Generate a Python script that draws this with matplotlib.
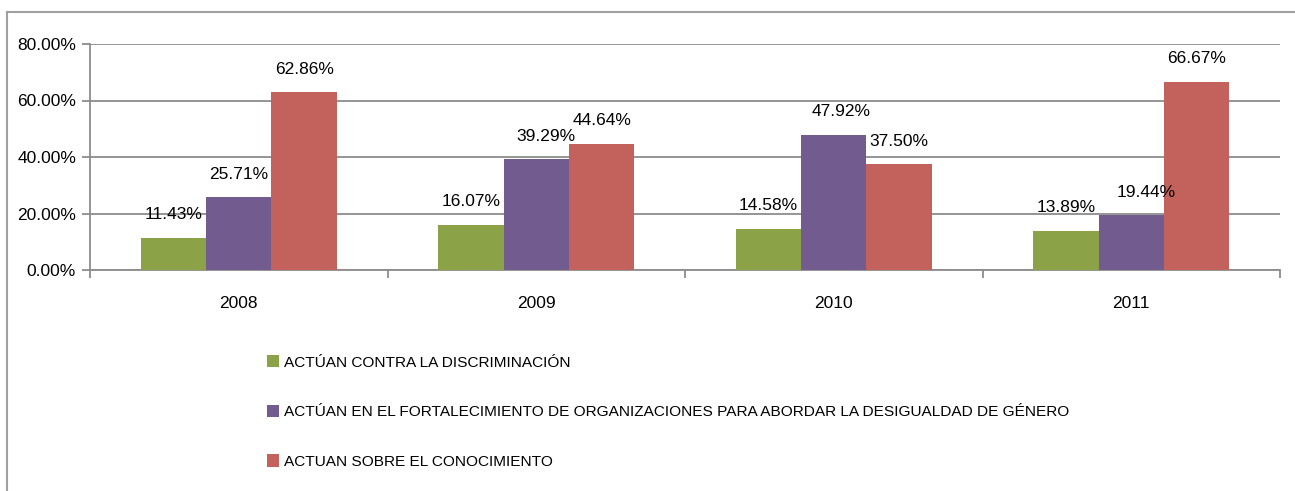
import matplotlib
matplotlib.use("Agg")
import matplotlib.pyplot as plt
from matplotlib.lines import Line2D
from matplotlib.patches import Patch
import numpy as np

years = ["2008", "2009", "2010", "2011"]
series_names = [
    "ACTÚAN CONTRA LA DISCRIMINACIÓN",
    "ACTÚAN EN EL FORTALECIMIENTO DE ORGANIZACIONES PARA ABORDAR LA DESIGUALDAD DE GÉNERO",
    "ACTUAN SOBRE EL CONOCIMIENTO",
]
discriminacion = [11.43, 16.07, 14.58, 13.89]
fortalecimiento = [25.71, 39.29, 47.92, 19.44]
conocimiento = [62.86, 44.64, 37.50, 66.67]
yticks = [0, 20, 40, 60, 80]

colors = ["#8BA346", "#725C8F", "#C3625D"]
label_dx = [[0, 0, 0, 0], [0, 10, 7, 15], [0, 0, 0, 0]]  # pixel shifts of labels

FONT = ["Liberation Sans", "DejaVu Sans"]
FS = 12.5
FS_LEG = 11.1

W, H = 1295, 491
fig = plt.figure(figsize=(W / 100, H / 100), dpi=100)
ax = fig.add_axes([90 / W, 1 - 270 / H, (1280 - 90) / W, (270 - 44) / H])

x = np.arange(len(years))
bw = 0.22
data = [discriminacion, fortalecimiento, conocimiento]
for i, (vals, c) in enumerate(zip(data, colors)):
    pos = x + (i - 1) * bw
    ax.bar(pos, vals, width=bw, color=c, zorder=3, linewidth=0)
    for j, (p, v) in enumerate(zip(pos, vals)):
        ax.annotate(f"{v:.2f}%", (p, v), xytext=(label_dx[i][j], 23),
                    textcoords="offset pixels", ha="center", va="center",
                    fontsize=FS, family=FONT, color="#000000", zorder=4)

ax.set_xlim(-0.5, len(years) - 0.5)
ax.set_ylim(0, 80)
ax.set_yticks(yticks)
ax.set_yticklabels([f"{t:.2f}%" for t in yticks], family=FONT, fontsize=FS)
ax.yaxis.grid(True, color="#8C8C8C", linewidth=1.3, zorder=0)
ax.set_axisbelow(True)

# category labels at centres, tick marks at boundaries
ax.set_xticks(x)
ax.set_xticklabels(years, family=FONT, fontsize=FS)
ax.tick_params(axis="x", length=0, pad=19)
ax.set_xticks(np.arange(len(years) + 1) - 0.5, minor=True)
ax.tick_params(axis="x", which="minor", length=6, color="#8C8C8C", width=1.3)
ax.tick_params(axis="y", length=6, color="#8C8C8C", width=1.3, pad=4)

for s in ["top", "right"]:
    ax.spines[s].set_visible(False)
for s in ["left", "bottom"]:
    ax.spines[s].set_color("#8C8C8C")
    ax.spines[s].set_linewidth(1.3)

# legend
handles = [Patch(facecolor=c, edgecolor="none") for c in colors]
leg = fig.legend(handles, series_names, loc="upper left",
                 bbox_to_anchor=(261 / W, 1 - 349 / H),
                 frameon=False, prop={"family": FONT, "size": FS_LEG},
                 handlelength=0.75, handleheight=0.85, handletextpad=0.35,
                 labelspacing=2.28, borderaxespad=0)

# outer frame (top and left only visible)
fig.add_artist(Line2D([7 / W, 1], [1 - 12 / H, 1 - 12 / H], transform=fig.transFigure,
                      color="#A0A0A0", linewidth=1.5))
fig.add_artist(Line2D([7 / W, 7 / W], [0, 1 - 12 / H], transform=fig.transFigure,
                      color="#A0A0A0", linewidth=1.5))

fig.savefig("out.png", dpi=100)
